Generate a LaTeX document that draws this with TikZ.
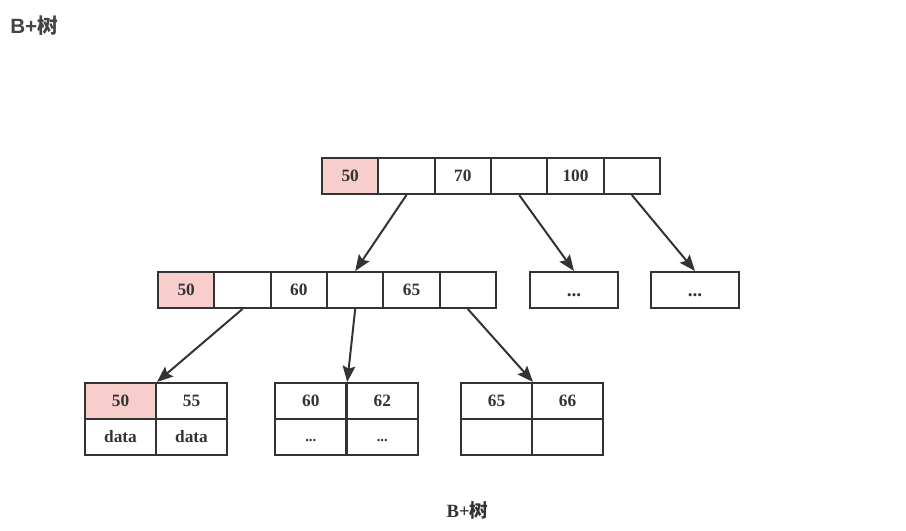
\documentclass[tikz,border=0pt]{standalone}
\usepackage{fontspec}
\setmainfont{Liberation Serif}
\newfontfamily\cjk{Noto Sans CJK SC}
\newfontfamily\titlesans{Liberation Sans}
\usetikzlibrary{arrows.meta}
\definecolor{ink}{HTML}{333333}
\definecolor{titleink}{HTML}{444444}
\definecolor{pinkfill}{HTML}{F8CECC}
\newcommand\bigdots{{\fontsize{14.5}{14}\selectfont\bfseries\vphantom{0}...}}
\newcommand\smalldots{{\fontsize{11}{12}\selectfont\bfseries\vphantom{0}...}}
\begin{document}
\begin{tikzpicture}[x=0.75pt,y=-0.75pt,
  cell/.style={draw=ink, line width=1.5pt, minimum width=42.25pt, minimum height=27pt,
    inner sep=0pt, text=ink, font=\fontsize{13}{15}\selectfont\bfseries},
  hot/.style={cell, fill=pinkfill},
  wide/.style={cell, minimum width=66pt},
  leafcell/.style={cell, minimum width=53.25pt},
  link/.style={draw=ink, line width=1.5pt, -{Stealth[length=12pt,width=9.5pt,inset=2pt]}}]
\useasboundingbox (0,0) rectangle (906,531);
% title
\node[anchor=west, text=titleink, inner sep=0pt] (title) at (10,26)
  {\fontsize{15.5}{18}\selectfont\bfseries\titlesans B+\cjk 树};
% root
\node[hot]  (r1) at (350.2,176) {50};
\node[cell] (r2) at (406.5,176) {};
\node[cell] (r3) at (462.8,176) {70};
\node[cell] (r4) at (519.2,176) {};
\node[cell] (r5) at (575.5,176) {100};
\node[cell] (r6) at (631.8,176) {};
% middle
\node[hot]  (m1) at (186.2,290) {50};
\node[cell] (m2) at (242.5,290) {};
\node[cell] (m3) at (298.8,290) {60};
\node[cell] (m4) at (355.2,290) {};
\node[cell] (m5) at (411.5,290) {65};
\node[cell] (m6) at (467.8,290) {};
\node[wide] (e1) at (574,290) {\bigdots};
\node[wide] (e2) at (695,290) {\bigdots};
% leaves
\node[hot, minimum width=53.25pt]  (a1) at (120.5,401) {50};
\node[leafcell] (a2) at (191.5,401) {55};
\node[leafcell] (a3) at (120.5,437) {data};
\node[leafcell] (a4) at (191.5,437) {data};
\node[leafcell] (b1) at (310.75,401) {60};
\node[leafcell] (b2) at (382.25,401) {62};
\node[leafcell] (b3) at (310.75,437) {\smalldots};
\node[leafcell] (b4) at (382.25,437) {\smalldots};
\node[leafcell] (c1) at (496.5,401) {65};
\node[leafcell] (c2) at (567.5,401) {66};
\node[leafcell] (c3) at (496.5,437) {};
\node[leafcell] (c4) at (567.5,437) {};
% connectors
\draw[link] (r2.south) -- (m4.north);
\draw[link] (r4.south) -- (e1.north);
\draw[link] (r6.south) -- (e2.north);
\draw[link] (m2.south) -- (a1.north east);
\draw[link] (m4.south) -- (b1.north east);
\draw[link] (m6.south) -- (c1.north east);
% caption
\node[text=ink, inner sep=0pt] (caption) at (467.5,510)
  {\fontsize{14}{16}\selectfont\bfseries B+\cjk 树};
\end{tikzpicture}
\end{document}
